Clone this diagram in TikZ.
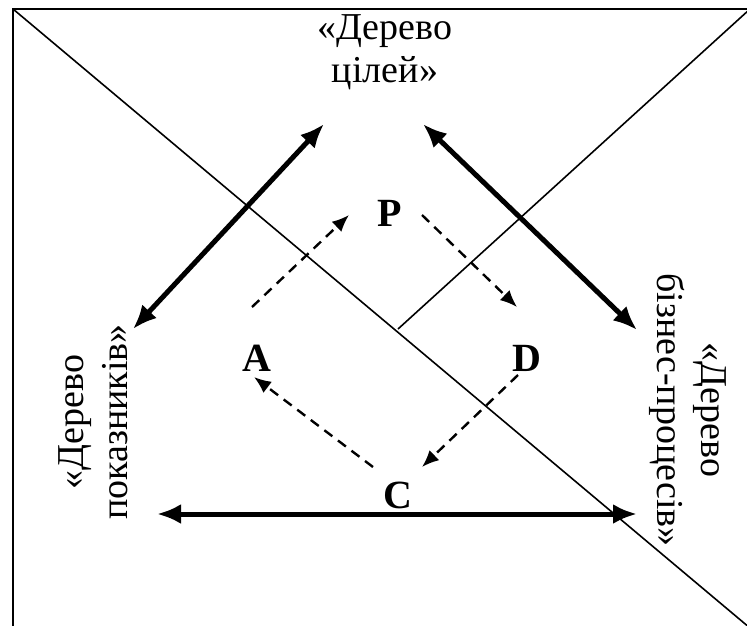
\documentclass[tikz,border=0pt]{standalone}
\usepackage{fontspec}
\setmainfont{Liberation Serif}
\usetikzlibrary{arrows.meta}
\begin{document}
\begin{tikzpicture}[x=1pt,y=-1pt,
  tree/.style={align=center,inner sep=0pt,font=\fontsize{38}{43.5}\selectfont},
  stage/.style={inner sep=0pt,font=\fontsize{40}{44}\selectfont\bfseries},
  link/.style={line width=5pt,{Latex[length=24pt,width=20pt]}-{Latex[length=24pt,width=20pt]}},
  cycle/.style={line width=2.4pt,dash pattern=on 10pt off 7pt,-{Latex[length=17pt,width=14pt]}}]
  \useasboundingbox (0,0) rectangle (747,625);
  \clip (0,0) rectangle (747,625);
  % frame and the two crossing lines
  \draw[line width=2.5pt] (13,630) -- (13,9) -- (750,9);
  \coordinate (corner) at (13,9); \coordinate (far) at (750,628);
  \coordinate (mid) at (398,329); \coordinate (top) at (750,9);
  \draw[line width=1.6pt] (corner) -- (far);
  \draw[line width=1.6pt] (mid) -- (top);
  % the three trees
  \node[tree] (goals) at (385,52) {«Дерево\\цілей»};
  \node[tree,rotate=90] (kpi) at (93,422) {«Дерево\\показників»};
  \node[tree,rotate=-90] (proc) at (688,410) {«Дерево\\бізнес-процесів»};
  % the cycle letters
  \node[stage] (P) at (390,213) {P};
  \node[stage] (A) at (257,358) {A};
  \node[stage] (D) at (527,358) {D};
  \node[stage] (C) at (398,495) {C};
  % ends of the thick links
  \coordinate (g1) at (324,124); \coordinate (k1) at (133,329);
  \coordinate (g2) at (423,124); \coordinate (p1) at (637,330);
  \coordinate (k2) at (157,514); \coordinate (p2) at (637,514);
  \draw[link] (g1) -- (k1);
  \draw[link] (g2) -- (p1);
  \draw[link] (k2) -- (p2);
  % ends of the dashed cycle
  \coordinate (a1) at (252,307); \coordinate (p3) at (349,215);
  \coordinate (p4) at (422,215); \coordinate (d1) at (517,307);
  \coordinate (d2) at (518,375); \coordinate (c1) at (422,467);
  \coordinate (c2) at (373,467); \coordinate (a2) at (254,377);
  \draw[cycle] (a1) -- (p3);
  \draw[cycle] (p4) -- (d1);
  \draw[cycle] (d2) -- (c1);
  \draw[cycle] (c2) -- (a2);
\end{tikzpicture}
\end{document}
